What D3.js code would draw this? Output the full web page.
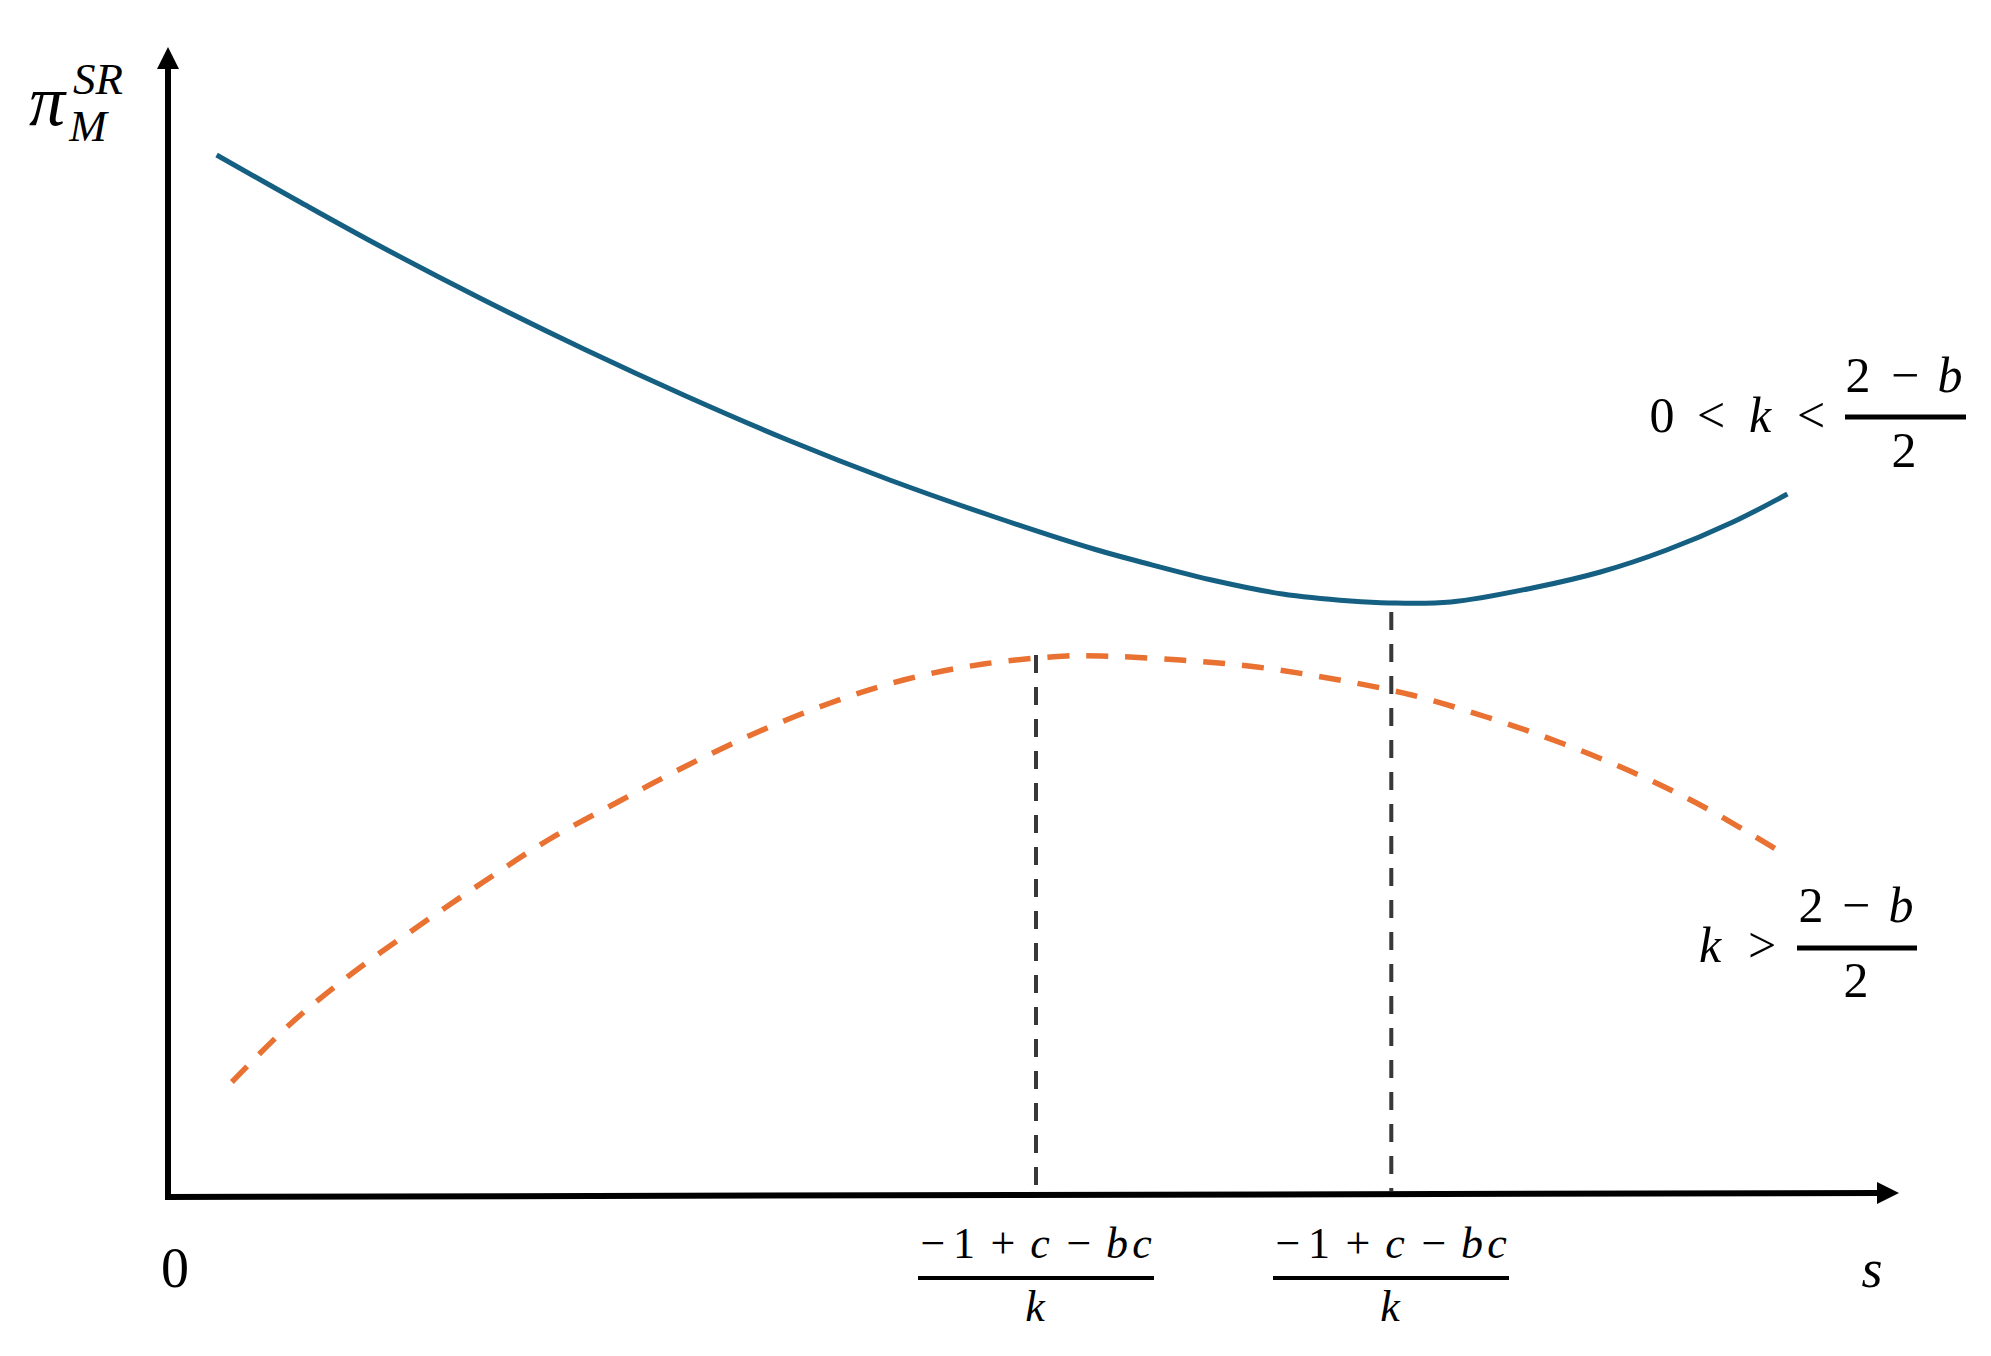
<!DOCTYPE html>
<html>
<head>
<meta charset="utf-8">
<script src="https://cdn.jsdelivr.net/npm/d3@7/dist/d3.min.js"></script>
<style>
  html, body { margin: 0; padding: 0; background: #fff; }
  svg { display: block; }
</style>
</head>
<body>
<script>
// profit curve for 0 < k < (2-b)/2  (arbitrary units)
const lowS      = [0.28, 0.77, 1.24, 1.84, 2.44, 3.04, 3.64, 4.24, 4.84, 5.44, 5.74, 6.16, 6.55, 6.95, 7.18, 7.54, 8.02, 8.42, 8.81, 9.20, 9.52];
const lowProfit = [10.41, 9.94, 9.50, 8.97, 8.47, 8.00, 7.56, 7.16, 6.80, 6.47, 6.33, 6.15, 6.02, 5.95, 5.93, 5.94, 6.08, 6.24, 6.46, 6.74, 7.02];

// profit curve for k > (2-b)/2
const highS      = [0.37, 0.72, 1.08, 1.46, 1.84, 2.23, 2.64, 3.03, 3.45, 3.89, 4.32, 4.79, 5.28, 5.48, 5.95, 6.40, 6.85, 7.31, 7.75, 8.19, 8.62, 9.04, 9.49];
const highProfit = [1.14, 1.73, 2.23, 2.69, 3.13, 3.56, 3.94, 4.29, 4.63, 4.93, 5.16, 5.32, 5.40, 5.40, 5.36, 5.29, 5.17, 5.01, 4.79, 4.53, 4.23, 3.88, 3.43];

// dashed guide lines down to the s axis
const markerS   = [5.10, 7.19];
const markerTop = [5.41, 5.84];

// tick label under each guide: -1 + c - bc over k
const tickNum    = ["\u2212", "1", "+", "c", "\u2212", "b", "c"];
const tickItalic = [false, false, false, true, false, true, true];
const tickLeft   = [918, 1273];

const width = 1991, height = 1356;
const FONT = "'Liberation Serif', 'DejaVu Serif', 'Times New Roman', serif";

const svg = d3.select("body").append("svg")
  .attr("width", width)
  .attr("height", height);

const x = d3.scaleLinear().domain([0, 10]).range([169, 1869]);
const y = d3.scaleLinear().domain([0, 10]).range([1196, 196]);

const line = d3.line()
  .x(d => x(d[0]))
  .y(d => y(d[1]))
  .curve(d3.curveCatmullRom.alpha(0.5));

// axes with arrow heads
svg.append("line")
  .attr("x1", 168).attr("y1", 1200)
  .attr("x2", 168).attr("y2", 66)
  .attr("stroke", "#000").attr("stroke-width", 6);
svg.append("path")
  .attr("d", "M168,47 L157,69 L179,69 Z")
  .attr("fill", "#000");

svg.append("line")
  .attr("x1", 165).attr("y1", 1197)
  .attr("x2", 1880).attr("y2", 1193)
  .attr("stroke", "#000").attr("stroke-width", 6);
svg.append("path")
  .attr("d", "M1899,1193 L1877,1182 L1877,1204 Z")
  .attr("fill", "#000");

// guide lines
svg.selectAll("line.guide")
  .data(markerS)
  .enter().append("line")
  .attr("class", "guide")
  .attr("x1", d => x(d))
  .attr("x2", d => x(d))
  .attr("y1", (d, i) => y(markerTop[i]))
  .attr("y2", y(0) - 5)
  .attr("stroke", "#383838")
  .attr("stroke-width", 4)
  .attr("stroke-dasharray", "18,14");

// curves
svg.append("path")
  .datum(highS.map((s, i) => [s, highProfit[i]]))
  .attr("d", line)
  .attr("fill", "none")
  .attr("stroke", "#E97132")
  .attr("stroke-width", 5.5)
  .attr("stroke-dasharray", "22,17");

svg.append("path")
  .datum(lowS.map((s, i) => [s, lowProfit[i]]))
  .attr("d", line)
  .attr("fill", "none")
  .attr("stroke", "#156082")
  .attr("stroke-width", 5);

// text helpers
function glyph(t, cx, by, size, italic) {
  svg.append("text")
    .attr("x", cx).attr("y", by)
    .attr("text-anchor", "middle")
    .attr("font-family", FONT)
    .attr("font-size", size)
    .attr("font-style", italic ? "italic" : "normal")
    .attr("fill", "#000")
    .text(t);
}
function bar(x1, x2, yy, w) {
  svg.append("line")
    .attr("x1", x1).attr("x2", x2)
    .attr("y1", yy).attr("y2", yy)
    .attr("stroke", "#000").attr("stroke-width", w);
}

// y axis title
glyph("\u03C0", 47, 125, 72, true);
svg.append("text")
  .attr("x", 73).attr("y", 94)
  .attr("font-family", FONT).attr("font-size", 45).attr("font-style", "italic")
  .text("SR");
glyph("M", 88, 141, 45, true);

// origin and s
glyph("0", 175, 1287, 56, false);
glyph("s", 1872, 1287, 54, true);

// tick fractions
const numOffsets = [15, 46, 85, 122, 161, 199, 224];
tickLeft.forEach(left => {
  tickNum.forEach((t, i) => glyph(t, left + numOffsets[i], 1258, 44, tickItalic[i]));
  bar(left, left + 236, 1278, 4);
  glyph("k", left + 117, 1321, 44, true);
});

// curve labels
glyph("0", 1662, 432, 50, false);
glyph("<", 1711, 432, 50, false);
glyph("k", 1760, 432, 50, true);
glyph("<", 1811, 432, 50, false);
glyph("2", 1858, 392, 50, false);
glyph("\u2212", 1905, 392, 50, false);
glyph("b", 1950, 392, 50, true);
bar(1845, 1966, 417, 5);
glyph("2", 1904, 467, 50, false);

glyph("k", 1710, 962, 50, true);
glyph(">", 1762, 962, 50, false);
glyph("2", 1811, 922, 50, false);
glyph("\u2212", 1856, 922, 50, false);
glyph("b", 1901, 922, 50, true);
bar(1797, 1917, 948, 5);
glyph("2", 1856, 997, 50, false);
</script>
</body>
</html>
